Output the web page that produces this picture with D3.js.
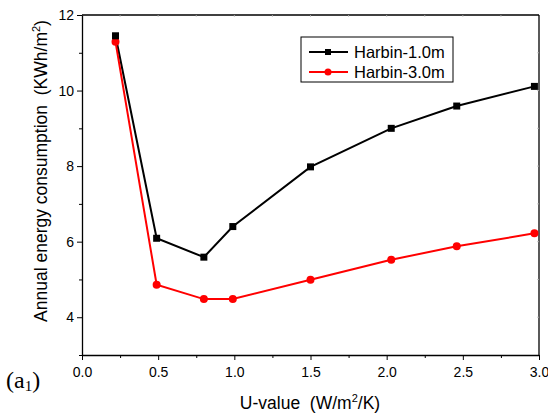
<!DOCTYPE html>
<html>
<head>
<meta charset="utf-8">
<script src="https://cdn.jsdelivr.net/npm/d3@7"></script>
<style>
  body { margin: 0; background: #fff; }
  svg { display: block; font-family: "Liberation Sans", Arial, sans-serif; }
  text { white-space: pre; }
</style>
</head>
<body>
<svg id="chart" width="548" height="414"></svg>
<script>
// U-values (W/m2/K) and annual energy consumption (KWh/m2)
const uValues = [0.22, 0.49, 0.80, 0.99, 1.50, 2.03, 2.46, 2.97];
const harbin10 = [11.45, 6.09, 5.59, 6.40, 7.98, 9.00, 9.59, 10.11];
const harbin30 = [11.29, 4.86, 4.48, 4.48, 4.99, 5.52, 5.88, 6.22];
const seriesNames = ["Harbin-1.0m", "Harbin-3.0m"];
const seriesColors = ["#000000", "#ff0000"];
const xTicks = [0.0, 0.5, 1.0, 1.5, 2.0, 2.5, 3.0];
const yTicks = [4, 6, 8, 10, 12];

const svg = d3.select("#chart");
const m = { left: 82, right: 539, top: 15, bottom: 355 };

const x = d3.scaleLinear().domain([0, 3]).range([m.left, m.right]);
const y = d3.scaleLinear().domain([3, 12]).range([m.bottom, m.top]);

// bottom axis: major + minor ticks
const gx = svg.append("g").attr("transform", `translate(0,${m.bottom})`);
gx.call(d3.axisBottom(x).tickValues(xTicks).tickFormat(d3.format(".1f")).tickSize(5).tickSizeOuter(0));
gx.append("g").call(d3.axisBottom(x).tickValues(d3.range(0.25, 3, 0.5)).tickFormat("").tickSize(3).tickSizeOuter(0))
  .select(".domain").remove();
gx.selectAll("text").attr("font-size", 14).attr("fill", "#000").attr("dy", "1.0em");

// left axis
const gy = svg.append("g").attr("transform", `translate(${m.left},0)`);
gy.call(d3.axisLeft(y).tickValues(yTicks).tickSize(5).tickSizeOuter(0));
gy.append("g").call(d3.axisLeft(y).tickValues([3, 5, 7, 9, 11]).tickFormat("").tickSize(3).tickSizeOuter(0))
  .select(".domain").remove();
gy.selectAll("text").attr("font-size", 14).attr("fill", "#000");

[gx, gy].forEach(g => {
  g.selectAll(".domain").attr("stroke", "#000").attr("stroke-width", 1.3);
  g.selectAll("line").attr("stroke", "#000").attr("stroke-width", 1);
});

// top and right frame with faint ticks
svg.append("line").attr("x1", m.left).attr("x2", m.right).attr("y1", m.top).attr("y2", m.top)
  .attr("stroke", "#000").attr("stroke-width", 1.3);
svg.append("line").attr("x1", m.right).attr("x2", m.right).attr("y1", m.top).attr("y2", m.bottom)
  .attr("stroke", "#000").attr("stroke-width", 1.3);
svg.append("g").selectAll("line").data(d3.range(0.25, 3, 0.25)).join("line")
  .attr("x1", d => x(d)).attr("x2", d => x(d)).attr("y1", m.top).attr("y2", m.top + 2)
  .attr("stroke", "#bbb").attr("stroke-width", 0.8);
svg.append("g").selectAll("line").data(d3.range(4, 12, 1)).join("line")
  .attr("x1", m.right - 2).attr("x2", m.right).attr("y1", d => y(d)).attr("y2", d => y(d))
  .attr("stroke", "#bbb").attr("stroke-width", 0.8);

// series lines and markers
const line = d3.line().x(d => x(d[0])).y(d => y(d[1]));
const data = [harbin10, harbin30].map(vals => uValues.map((u, i) => [u, vals[i]]));

data.forEach((pts, k) => {
  svg.append("path").datum(pts).attr("d", line)
    .attr("fill", "none").attr("stroke", seriesColors[k]).attr("stroke-width", 2);
});
svg.append("g").selectAll("circle").data(data[1]).join("circle")
  .attr("cx", d => x(d[0])).attr("cy", d => y(d[1])).attr("r", 4)
  .attr("fill", seriesColors[1]);
svg.append("g").selectAll("rect").data(data[0]).join("rect")
  .attr("x", d => x(d[0]) - 3.5).attr("y", d => y(d[1]) - 3.5)
  .attr("width", 7).attr("height", 7).attr("fill", seriesColors[0]);

// legend
const lg = svg.append("g");
lg.append("rect").attr("x", 301).attr("y", 37).attr("width", 152).attr("height", 45)
  .attr("fill", "#fff").attr("stroke", "#000").attr("stroke-width", 1);
seriesNames.forEach((name, k) => {
  const ly = 52 + k * 20;
  lg.append("line").attr("x1", 309).attr("x2", 348).attr("y1", ly).attr("y2", ly)
    .attr("stroke", seriesColors[k]).attr("stroke-width", 2);
  if (k === 0) {
    lg.append("rect").attr("x", 325).attr("y", ly - 3).attr("width", 6).attr("height", 6).attr("fill", seriesColors[k]);
  } else {
    lg.append("circle").attr("cx", 328).attr("cy", ly).attr("r", 3.5).attr("fill", seriesColors[k]);
  }
  lg.append("text").attr("x", 354).attr("y", ly).attr("dy", "0.36em")
    .attr("font-size", 16.5).attr("fill", "#000").text(name);
});

// axis titles
const xt = svg.append("text").attr("x", 310).attr("y", 409).attr("text-anchor", "middle")
  .attr("font-size", 17.5).attr("fill", "#000");
xt.append("tspan").text("U-value  (W/m");
xt.append("tspan").attr("font-size", 11).attr("dy", -7).text("2");
xt.append("tspan").attr("dy", 7).text("/K)");

const yt = svg.append("text").attr("transform", "translate(46.5,171) rotate(-90)")
  .attr("text-anchor", "middle").attr("font-size", 17.5).attr("fill", "#000");
yt.append("tspan").text("Annual energy consumption  (KWh/m");
yt.append("tspan").attr("font-size", 11).attr("dy", -7).text("2");
yt.append("tspan").attr("dy", 7).text(")");

// panel label
const pl = svg.append("text").attr("x", 6).attr("y", 388)
  .attr("font-family", "'Liberation Serif', 'Times New Roman', serif").attr("font-size", 24).attr("fill", "#000");
pl.append("tspan").text("(a");
pl.append("tspan").attr("font-size", 15).attr("dy", 3).text("1");
pl.append("tspan").attr("dy", -3).text(")");
</script>
</body>
</html>
